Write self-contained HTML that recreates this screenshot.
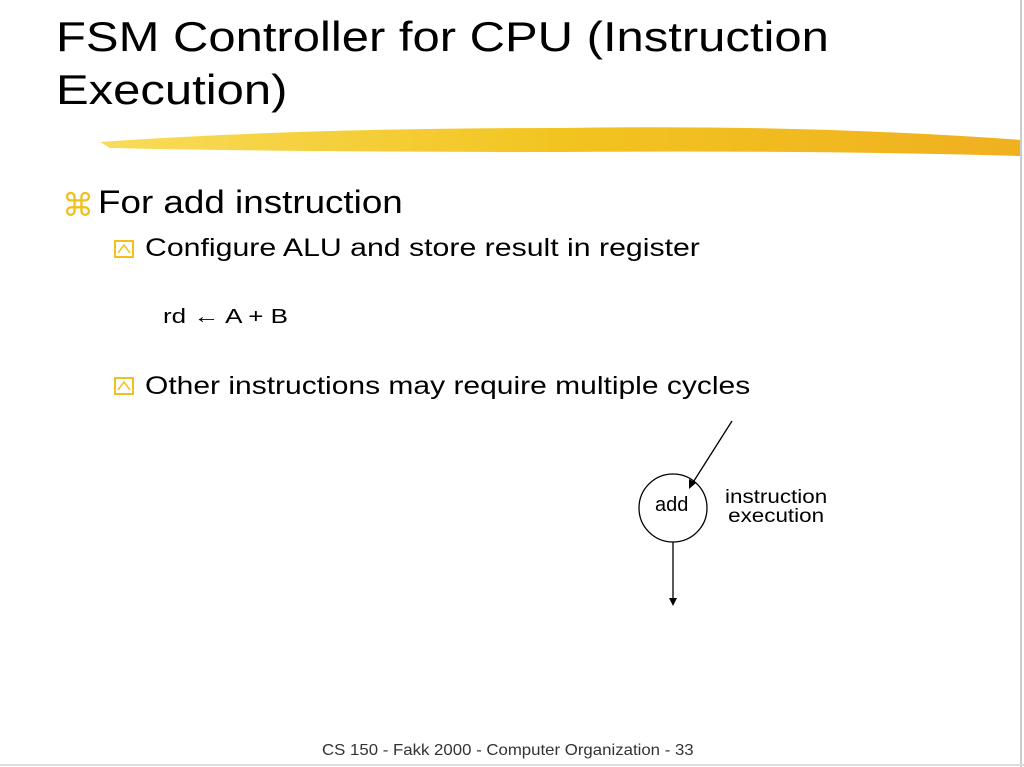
<!DOCTYPE html>
<html><head><meta charset="utf-8"><style>
body{margin:0;width:1024px;height:767px;background:#fff;position:relative;overflow:hidden;font-family:"Liberation Sans",sans-serif;}
.t{position:absolute;color:#000;white-space:nowrap;transform-origin:0 0}
</style></head><body>
<div class="t" style="left:56px;top:10px;font-size:42px;line-height:53px;transform:scaleX(1.166)">FSM Controller for CPU (Instruction<br>Execution)</div>
<svg width="1024" height="767" style="position:absolute;left:0;top:0">
<defs><linearGradient id="g" x1="0" x2="1"><stop offset="0" stop-color="#f8dc5a"/><stop offset="0.5" stop-color="#f2c420"/><stop offset="1" stop-color="#f0b020"/></linearGradient></defs>
<path d="M100 142 Q300 128 560 128 Q800 124 1022 140 L1022 156 Q800 150 560 152 Q300 152 110 148 Z" fill="url(#g)"/>
<line x1="1021" y1="0" x2="1021" y2="767" stroke="#ccc" stroke-width="2"/>
<line x1="0" y1="765" x2="1024" y2="765" stroke="#ddd" stroke-width="2"/>
<rect x="115" y="241" width="18" height="16" fill="none" stroke="#f0c020" stroke-width="2"/>
<polyline points="118,253 124,245 130,253" fill="none" stroke="#f0c020" stroke-width="1.5"/>
<rect x="115" y="378" width="18" height="16" fill="none" stroke="#f0c020" stroke-width="2"/>
<polyline points="118,390 124,382 130,390" fill="none" stroke="#f0c020" stroke-width="1.5"/>
<circle cx="673" cy="508" r="34" fill="none" stroke="#000" stroke-width="1.3"/>
<line x1="732" y1="421" x2="692" y2="484" stroke="#000" stroke-width="1.3"/>
<polygon points="689,489 689,479 696,483" fill="#000"/>
<line x1="673" y1="542" x2="673" y2="600" stroke="#000" stroke-width="1.3"/>
<polygon points="669,598 677,598 673,606" fill="#000"/>
</svg>
<div class="t" style="left:62px;top:186px;font-size:32px;color:#f0c020">⌘</div>
<div class="t" style="left:98px;top:184px;font-size:32px;transform:scaleX(1.15)">For add instruction</div>
<div class="t" style="left:145px;top:234px;font-size:25px;transform:scaleX(1.21)">Configure ALU and store result in register</div>
<div class="t" style="left:163px;top:306px;font-size:20px;transform:scaleX(1.3)">rd ← A + B</div>
<div class="t" style="left:145px;top:372px;font-size:25px;transform:scaleX(1.2)">Other instructions may require multiple cycles</div>
<div class="t" style="left:655px;top:494px;font-size:20px;">add</div>
<div class="t" style="left:725px;top:488px;font-size:19px;line-height:19px;text-align:center;transform:scaleX(1.18)">instruction<br>execution</div>
<div class="t" style="left:322px;top:742px;font-size:16px;color:#333;transform:scaleX(1.05)">CS 150 - Fakk 2000 - Computer Organization - 33</div>
</body></html>
